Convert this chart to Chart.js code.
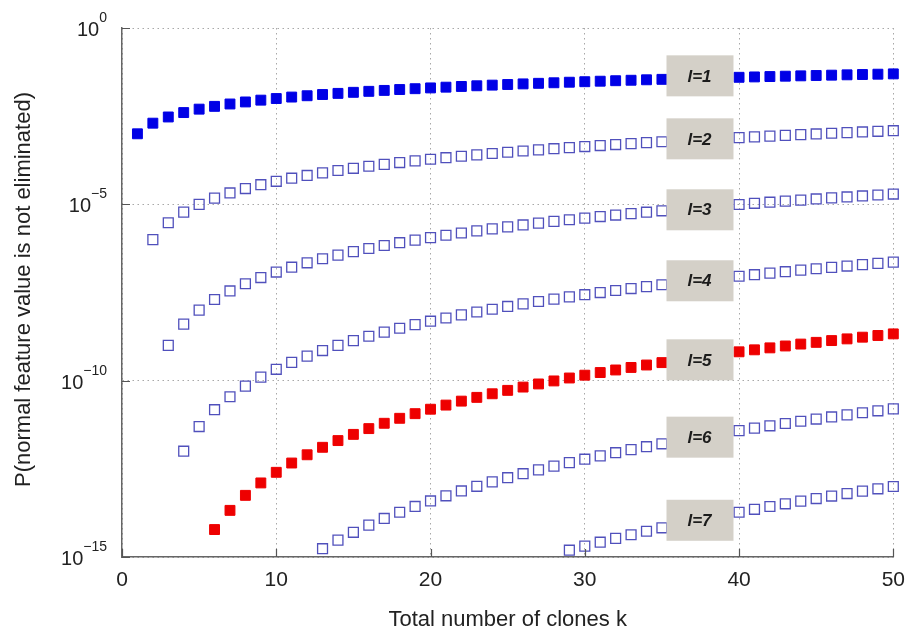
<!DOCTYPE html>
<html>
<head>
<meta charset="utf-8">
<script src="https://cdn.jsdelivr.net/npm/chart.js@4.4.0/dist/chart.umd.min.js"></script>
<style>
  html, body { margin: 0; padding: 0; background: #fff; }
  #wrap { width: 916px; height: 631px; position: relative; }
</style>
</head>
<body>
<div id="wrap"><canvas id="chart"></canvas></div>
<script>
// total number of clones k
const clonesK = [1, 2, 3, 4, 5, 6, 7, 8, 9, 10, 11, 12, 13, 14, 15, 16, 17, 18, 19, 20,
  21, 22, 23, 24, 25, 26, 27, 28, 29, 30, 31, 32, 33, 34, 35, 36, 37, 38, 39, 40,
  41, 42, 43, 44, 45, 46, 47, 48, 49, 50];

const seriesNames = ['l=1', 'l=2', 'l=3', 'l=4', 'l=5', 'l=6', 'l=7'];
// first k shown for each series (lower values fall below the axis)
const firstK = [1, 2, 3, 4, 6, 13, 29];

const pL1 = [0.001, 0.002, 0.003, 0.004, 0.005, 0.006, 0.007, 0.008, 0.009, 0.010,
  0.011, 0.012, 0.013, 0.014, 0.015, 0.016, 0.017, 0.018, 0.019, 0.020,
  0.021, 0.022, 0.023, 0.024, 0.025, 0.026, 0.027, 0.028, 0.029, 0.030,
  0.031, 0.032, 0.033, 0.034, 0.035, 0.036, 0.037, 0.038, 0.039, 0.040,
  0.041, 0.042, 0.043, 0.044, 0.045, 0.046, 0.047, 0.048, 0.049, 0.050];

const pL2 = [1e-6, 3e-6, 6e-6, 1e-5, 1.5e-5, 2.1e-5, 2.8e-5, 3.6e-5, 4.5e-5, 5.5e-5,
  6.6e-5, 7.8e-5, 9.1e-5, 1.05e-4, 1.2e-4, 1.36e-4, 1.53e-4, 1.71e-4, 1.9e-4, 2.1e-4,
  2.31e-4, 2.53e-4, 2.76e-4, 3e-4, 3.25e-4, 3.51e-4, 3.78e-4, 4.06e-4, 4.35e-4, 4.65e-4,
  4.96e-4, 5.28e-4, 5.61e-4, 5.95e-4, 6.3e-4, 6.66e-4, 7.03e-4, 7.41e-4, 7.8e-4, 8.2e-4,
  8.61e-4, 9.03e-4, 9.46e-4, 9.9e-4, 1.035e-3, 1.081e-3, 1.128e-3, 1.176e-3, 1.225e-3];

const pL3 = [1e-9, 4e-9, 1e-8, 2e-8, 3.5e-8, 5.6e-8, 8.4e-8, 1.2e-7, 1.65e-7, 2.2e-7,
  2.86e-7, 3.64e-7, 4.55e-7, 5.6e-7, 6.8e-7, 8.16e-7, 9.69e-7, 1.14e-6, 1.33e-6, 1.54e-6,
  1.77e-6, 2.02e-6, 2.3e-6, 2.6e-6, 2.93e-6, 3.28e-6, 3.65e-6, 4.06e-6, 4.5e-6, 4.96e-6,
  5.46e-6, 5.98e-6, 6.55e-6, 7.14e-6, 7.77e-6, 8.44e-6, 9.14e-6, 9.88e-6, 1.07e-5, 1.15e-5,
  1.23e-5, 1.32e-5, 1.42e-5, 1.52e-5, 1.62e-5, 1.73e-5, 1.84e-5, 1.96e-5];

const pL4 = [1e-12, 5e-12, 1.5e-11, 3.5e-11, 7e-11, 1.26e-10, 2.1e-10, 3.3e-10, 4.95e-10, 7.15e-10,
  1e-9, 1.37e-9, 1.82e-9, 2.38e-9, 3.06e-9, 3.88e-9, 4.85e-9, 5.99e-9, 7.32e-9, 8.86e-9,
  1.06e-8, 1.27e-8, 1.5e-8, 1.76e-8, 2.05e-8, 2.38e-8, 2.74e-8, 3.15e-8, 3.6e-8, 4.09e-8,
  4.64e-8, 5.24e-8, 5.89e-8, 6.6e-8, 7.38e-8, 8.23e-8, 9.14e-8, 1.01e-7, 1.12e-7, 1.23e-7,
  1.36e-7, 1.49e-7, 1.63e-7, 1.78e-7, 1.95e-7, 2.12e-7, 2.3e-7];

const pL5 = [6e-15, 2.1e-14, 5.6e-14, 1.26e-13, 2.52e-13, 4.62e-13, 7.92e-13, 1.29e-12, 2e-12, 3e-12,
  4.37e-12, 6.19e-12, 8.57e-12, 1.16e-11, 1.55e-11, 2.03e-11, 2.63e-11, 3.36e-11, 4.25e-11, 5.31e-11,
  6.58e-11, 8.07e-11, 9.83e-11, 1.19e-10, 1.43e-10, 1.7e-10, 2.01e-10, 2.37e-10, 2.78e-10, 3.25e-10,
  3.77e-10, 4.36e-10, 5.02e-10, 5.76e-10, 6.58e-10, 7.49e-10, 8.51e-10, 9.63e-10, 1.09e-9, 1.22e-9,
  1.37e-9, 1.53e-9, 1.71e-9, 1.91e-9, 2.12e-9];

const pL6 = [1.72e-15, 3e-15, 5.01e-15, 8.01e-15, 1.24e-14, 1.86e-14, 2.71e-14, 3.88e-14, 5.43e-14, 7.46e-14,
  1.01e-13, 1.35e-13, 1.77e-13, 2.3e-13, 2.96e-13, 3.77e-13, 4.75e-13, 5.94e-13, 7.36e-13, 9.06e-13,
  1.11e-12, 1.34e-12, 1.62e-12, 1.95e-12, 2.32e-12, 2.76e-12, 3.26e-12, 3.84e-12, 4.5e-12, 5.25e-12,
  6.1e-12, 7.06e-12, 8.15e-12, 9.37e-12, 1.07e-11, 1.23e-11, 1.4e-11, 1.59e-11];

const pL7 = [1.56e-15, 2.04e-15, 2.63e-15, 3.37e-15, 4.27e-15, 5.38e-15, 6.72e-15, 8.35e-15, 1.03e-14, 1.26e-14,
  1.54e-14, 1.86e-14, 2.25e-14, 2.7e-14, 3.22e-14, 3.83e-14, 4.54e-14, 5.35e-14, 6.29e-14, 7.36e-14,
  8.59e-14, 9.99e-14];

const seriesValues = [pL1, pL2, pL3, pL4, pL5, pL6, pL7];

const xTicks = [0, 10, 20, 30, 40, 50];
const yTicks = [1e-15, 1e-10, 1e-5, 1];
const yTickExp = ['\u221215', '\u221210', '\u22125', '0'];

// where the grey "l=" boxes sit, in data units
const boxK = 37.5;
const boxP = [0.044, 7.2e-4, 7.0e-6, 6.8e-8, 3.9e-10, 2.5e-12, 1.1e-14];

const FONT = '"Liberation Sans", Arial, Helvetica, sans-serif';

function styleFor(i) {
  if (i === 0) return { fill: '#0000e6', line: '#0000e6', w: 1 };
  if (i === 4) return { fill: '#ee0000', line: '#ee0000', w: 1 };
  return { fill: 'rgba(0,0,0,0)', line: '#5050bc', w: 1.3 };
}

const datasets = seriesValues.map((vals, i) => {
  const st = styleFor(i);
  const start = clonesK.indexOf(firstK[i]);
  return {
    label: seriesNames[i],
    data: vals.map((v, j) => ({ x: clonesK[start + j], y: v })),
    showLine: false,
    pointStyle: 'rect',
    pointRadius: 7,
    pointHoverRadius: 7,
    pointBackgroundColor: st.fill,
    pointBorderColor: st.line,
    pointBorderWidth: st.w,
    clip: { left: false, top: false, right: false, bottom: 0 },
  };
});

const decor = {
  id: 'decor',
  afterDatasetsDraw(chart) {
    const ctx = chart.ctx;
    const xs = chart.scales.x, ys = chart.scales.y;
    ctx.save();
    seriesNames.forEach((name, i) => {
      const cx = xs.getPixelForValue(boxK);
      const cy = ys.getPixelForValue(boxP[i]);
      ctx.fillStyle = '#d4d0c8';
      ctx.fillRect(cx - 34, cy - 20.5, 67, 41);
      ctx.fillStyle = '#1c1c1c';
      ctx.font = 'italic bold 17px ' + FONT;
      ctx.textAlign = 'center';
      ctx.textBaseline = 'middle';
      ctx.fillText(name, cx - 1, cy + 1);
    });
    ctx.restore();
  },
  afterDraw(chart) {
    const ctx = chart.ctx;
    const xs = chart.scales.x, ys = chart.scales.y;
    const a = chart.chartArea;
    ctx.save();
    // inward tick marks
    ctx.strokeStyle = '#555';
    ctx.lineWidth = 1.2;
    ctx.beginPath();
    xTicks.forEach((t) => {
      const px = Math.round(xs.getPixelForValue(t)) + 0.5;
      ctx.moveTo(px, a.bottom);
      ctx.lineTo(px, a.bottom - 8);
    });
    yTicks.forEach((t) => {
      const py = Math.round(ys.getPixelForValue(t)) + 0.5;
      ctx.moveTo(a.left, py);
      ctx.lineTo(a.left + 8, py);
    });
    ctx.stroke();

    // y tick labels 10^n
    ctx.fillStyle = '#222';
    ctx.textBaseline = 'alphabetic';
    ctx.textAlign = 'left';
    yTicks.forEach((t, i) => {
      const py = ys.getPixelForValue(t);
      ctx.font = '14px ' + FONT;
      const ew = ctx.measureText(yTickExp[i]).width;
      ctx.font = '20px ' + FONT;
      const bw = ctx.measureText('10').width;
      const right = a.left - 15;
      ctx.fillText('10', right - ew - bw, py + 8);
      ctx.font = '14px ' + FONT;
      ctx.fillText(yTickExp[i], right - ew, py - 6);
    });

    // axis titles
    ctx.font = '22px ' + FONT;
    ctx.textAlign = 'center';
    ctx.fillText('Total number of clones k', (a.left + a.right) / 2, 626);
    ctx.save();
    ctx.translate(30, (a.top + a.bottom) / 2 - 3);
    ctx.rotate(-Math.PI / 2);
    ctx.fillText('P(normal feature value is not eliminated)', 0, 0);
    ctx.restore();
    ctx.restore();
  },
};

new Chart(document.getElementById('chart'), {
  type: 'scatter',
  data: { datasets: datasets },
  options: {
    responsive: true,
    maintainAspectRatio: false,
    animation: false,
    layout: { padding: { top: 28, right: 17, left: 0, bottom: 0 } },
    plugins: { legend: { display: false }, tooltip: { enabled: false } },
    scales: {
      x: {
        type: 'linear',
        min: 0,
        max: 50,
        afterBuildTicks: (s) => { s.ticks = xTicks.map((v) => ({ value: v })); },
        afterFit: (s) => { s.height = 74; },
        ticks: { font: { family: FONT, size: 21 }, color: '#222', padding: 11 },
        grid: { color: '#a8a8a8', drawTicks: false },
        border: { color: '#666', width: 1.5, dash: [1.5, 3.5] },
      },
      y: {
        type: 'logarithmic',
        min: 1e-15,
        max: 1,
        afterBuildTicks: (s) => { s.ticks = yTicks.map((v) => ({ value: v })); },
        afterFit: (s) => { s.width = 122; },
        ticks: { display: false },
        grid: { color: '#a8a8a8', drawTicks: false },
        border: { color: '#666', width: 1.5, dash: [1.5, 3.5] },
      },
    },
  },
  plugins: [decor],
});
</script>
</body>
</html>
